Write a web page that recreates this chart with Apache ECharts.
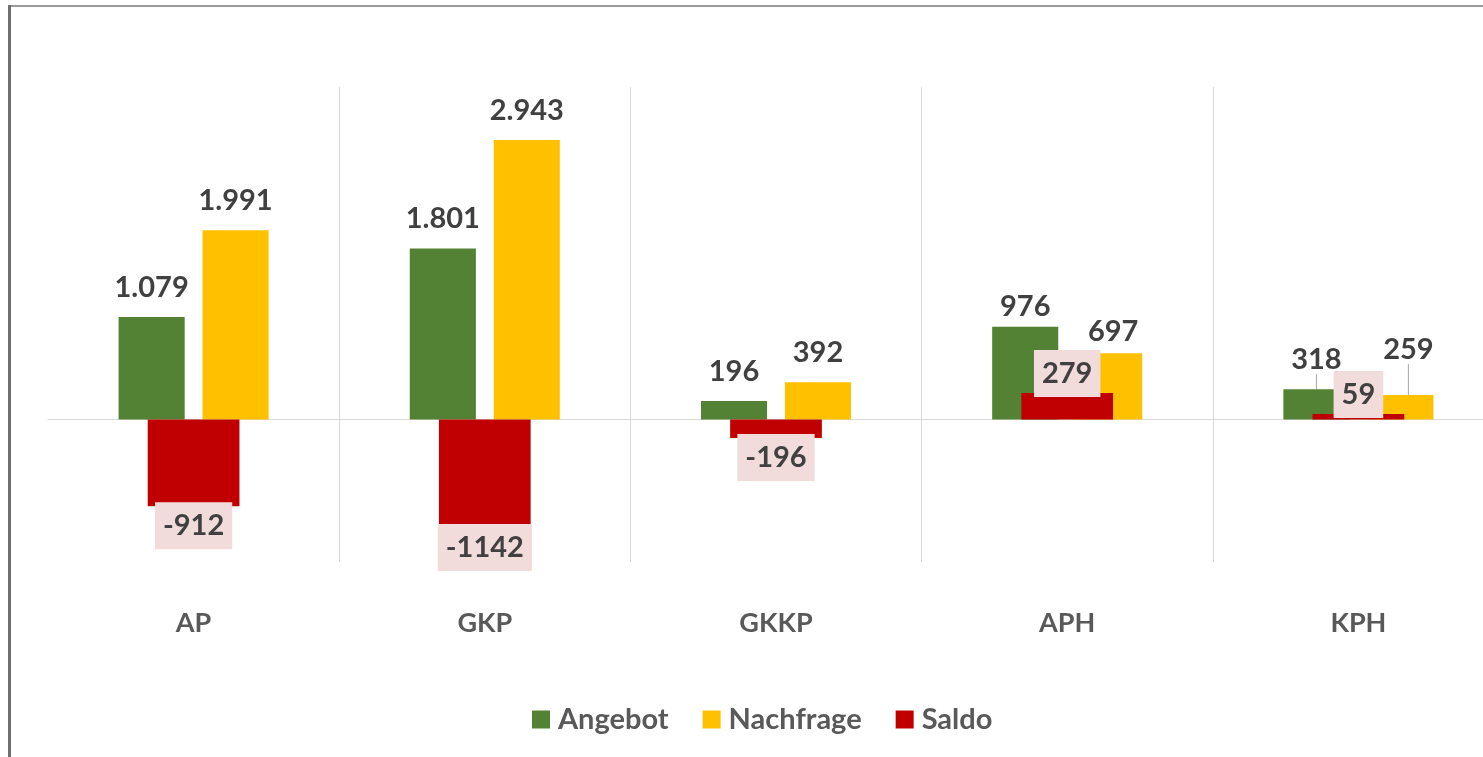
<!DOCTYPE html>
<html>
<head>
<meta charset="utf-8">
<script src="https://cdn.jsdelivr.net/npm/echarts@6/dist/echarts.min.js"></script>
<style>
  html, body { margin: 0; padding: 0; background: #fff; }
  #main { width: 1483px; height: 757px; }
</style>
</head>
<body>
<div id="main"></div>
<script>
const categories = ['AP', 'GKP', 'GKKP', 'APH', 'KPH'];
const angebot = [1079, 1801, 196, 976, 318];
const nachfrage = [1991, 2943, 392, 697, 259];
const saldo = [-912, -1142, -196, 279, 59];

const font = { fontFamily: 'Lato', fontWeight: 'bold', fontSize: 29 };
const axisFont = { fontFamily: 'Lato', fontWeight: 'bold', fontSize: 27 };
const textDark = '#404040';
const textGray = '#595959';
const gridGray = '#d9d9d9';

// german thousands separator: 1079 -> 1.079
function deNum(v) {
  return String(v).replace(/\B(?=(\d{3})+(?!\d))/g, '.');
}

// labels that were dragged by hand in the original
// key: seriesIndex-dataIndex -> [dx, dy, leader line?]
const nudges = {
  '0-3': [0, 9, false],
  '1-3': [4, 8, false],
  '0-4': [0, 0, true],
  '1-4': [8, -16, true]
};

function items(values, seriesIndex) {
  return values.map((v, i) => {
    const n = nudges[seriesIndex + '-' + i];
    if (!n || !n[2]) return v;
    return { value: v, labelLine: { show: true, lineStyle: { color: '#a6a6a6', width: 1 } } };
  });
}

function nudgeLayout(p) {
  const n = nudges[p.seriesIndex + '-' + p.dataIndex];
  if (!n) return {};
  if (!n[2]) return { dx: n[0], dy: n[1] };
  // x/y placement makes echarts draw the leader line
  return {
    x: p.labelRect.x + p.labelRect.width / 2 + n[0],
    y: p.labelRect.y + p.labelRect.height + n[1],
    align: 'center',
    verticalAlign: 'bottom'
  };
}

const saldoItems = saldo.map(v => ({
  value: v,
  label: { position: v < 0 ? 'bottom' : 'top' }
}));

const chart = echarts.init(document.getElementById('main'));

chart.setOption({
  animation: false,
  grid: { left: 48, top: 87, width: 1456, height: 475, outerBoundsMode: 'none', containLabel: false },
  graphic: [
    { type: 'line', shape: { x1: 8, y1: 6, x2: 1483, y2: 6 }, style: { stroke: '#7a7a7a', lineWidth: 1.5 } },
    { type: 'line', shape: { x1: 9.5, y1: 5, x2: 9.5, y2: 757 }, style: { stroke: '#6e6e6e', lineWidth: 3 } }
  ],
  legend: {
    data: ['Angebot', 'Nachfrage', 'Saldo'],
    left: 527,
    top: 700,
    icon: 'rect',
    itemWidth: 18,
    itemHeight: 18,
    itemGap: 34,
    textStyle: Object.assign({ color: textGray, padding: [0, 0, 0, 3] }, font)
  },
  xAxis: [
    {
      type: 'category',
      data: categories,
      position: 'bottom',
      axisLine: { show: false, onZero: false },
      axisTick: { show: false },
      axisLabel: Object.assign({ margin: 48, color: textGray }, axisFont),
      splitLine: { show: true, showMinLine: false, lineStyle: { color: gridGray, width: 1 } }
    },
    {
      type: 'category',
      data: categories,
      axisLine: { show: true, onZero: true, lineStyle: { color: gridGray, width: 1 } },
      axisTick: { show: false },
      axisLabel: { show: false },
      splitLine: { show: false }
    }
  ],
  yAxis: { type: 'value', min: -1500, max: 3500, show: false },
  series: [
    {
      name: 'Angebot',
      type: 'bar',
      xAxisIndex: 0,
      barWidth: '22.7%',
      barGap: '27%',
      itemStyle: { color: '#548235' },
      label: Object.assign({
        show: true, position: 'top', distance: 15, color: textDark,
        formatter: p => deNum(p.value)
      }, font),
      labelLine: { show: false },
      labelLayout: nudgeLayout,
      data: items(angebot, 0)
    },
    {
      name: 'Nachfrage',
      type: 'bar',
      xAxisIndex: 0,
      barWidth: '22.7%',
      barGap: '27%',
      itemStyle: { color: '#ffc000' },
      label: Object.assign({
        show: true, position: 'top', distance: 15, color: textDark,
        formatter: p => deNum(p.value)
      }, font),
      labelLine: { show: false },
      labelLayout: nudgeLayout,
      data: items(nachfrage, 1)
    },
    {
      name: 'Saldo',
      type: 'bar',
      xAxisIndex: 1,
      barWidth: '31.5%',
      itemStyle: { color: '#c00000' },
      label: Object.assign({
        show: true, distance: -4, color: textDark,
        backgroundColor: '#f2dcdb', padding: [9, 8]
      }, font),
      data: saldoItems
    }
  ]
});
</script>
</body>
</html>
